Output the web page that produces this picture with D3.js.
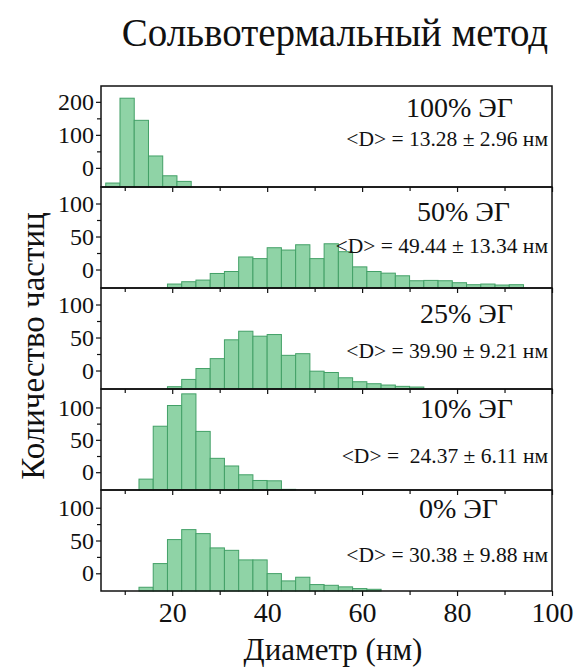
<!DOCTYPE html>
<html lang="ru">
<head>
<meta charset="UTF-8">
<title>Сольвотермальный метод</title>
<script src="https://cdn.jsdelivr.net/npm/d3@7"></script>
<style>
    body { margin: 0; background: #fff; }
    .bar { fill: #8fd3a6; stroke: #43a067; stroke-width: 1; }
    .frame { fill: none; stroke: #111; stroke-width: 1.5; }
    .axis path { display: none; }
    .axis line { stroke: #111; stroke-width: 1.2; }
</style>
</head>
<body>
<div id="chart"></div>
<script>
"use strict";

var serif = "'Liberation Serif', 'DejaVu Serif', serif";

// panel order top -> bottom
var panelLabels = ["100% ЭГ", "50% ЭГ", "25% ЭГ", "10% ЭГ", "0% ЭГ"];
var meanLabels = [
    "<D> = 13.28 ± 2.96 нм",
    "<D> = 49.44 ± 13.34 нм",
    "<D> = 39.90 ± 9.21 нм",
    "<D> =  24.37 ± 6.11 нм",
    "<D> = 30.38 ± 9.88 нм"
];

var binWidth = 3;                     // нм
var binStart = [6, 19, 19, 13, 13];   // left edge of first bin, нм

// bar tops as read on each panel's y axis
var eg100 = [-46, 211, 144, 36, -24, -41];
var eg50  = [-22, -18.5, -16, -6, -3, 19, 16.5, 33, 29.5, 37.5, 16.5, 39, 27, 4, -3, -5.5, -9.5, -17, -16.5, -17, -20, -23, -22, -23.5, -23];
var eg25  = [-24.5, -13.5, 3, 18, 46.5, 59.5, 52, 54.5, 23, 25.5, -1, -3, -11, -17, -20, -22, -24, -25];
var eg10  = [-10.7, 71, 103, 121, 63, 21.4, 9.6, -4, -12.8, -13.3, -26.5];
var eg0   = [-21.3, 14.8, 51.4, 66.6, 60.5, 38.7, 35, 20.4, 20.4, -0.5, -11.6, -6, -17.2, -18.3, -20.7, -23.3, -24.4];
var series = [eg100, eg50, eg25, eg10, eg0];

var yDomains = [[-58, 248], [-28, 125], [-28, 125], [-27.5, 128.5], [-27, 127]];
var yMajor = [[0, 100, 200], [0, 50, 100], [0, 50, 100], [0, 50, 100], [0, 50, 100]];
var yMinor = [[50, 150], [25, 75], [25, 75], [25, 75], [25, 75]];

var xDomain = [5, 100];
var xMajor = [20, 40, 60, 80, 100];
var xMinor = [10, 30, 50, 70, 90];

var W = 578, H = 669;
var margin = {left: 101, right: 26, top: 86};
var panelH = 101;
var width = W - margin.left - margin.right;

var svg = d3.select("#chart").append("svg")
    .attr("width", W)
    .attr("height", H);

var x = d3.scaleLinear().domain(xDomain).range([0, width]);

// label placement (right edge of each line, baselines relative to panel top)
var labelRight = [513, 510, 513, 513, 498];
var labelBase = [31, 34, 35, 29, 28];
var meanBase = [60, 66, 70, 74, 72];

function label(sel, size)
{
    return sel.attr("font-family", serif)
        .style("font-family", serif)
        .style("font-size", size + "px")
        .style("fill", "#111");
}

series.forEach(function(vals, p)
{
    var top = margin.top + p * panelH;
    var g = svg.append("g")
        .attr("transform", "translate(" + margin.left + "," + top + ")");

    var y = d3.scaleLinear().domain(yDomains[p]).range([panelH, 0]);
    var base = yDomains[p][0];

    g.selectAll("rect.bar")
        .data(vals)
        .enter().append("rect")
        .attr("class", "bar")
        .attr("x", function(d, i) { return x(binStart[p] + i * binWidth); })
        .attr("width", x(binStart[p] + binWidth) - x(binStart[p]))
        .attr("y", function(d) { return y(d); })
        .attr("height", function(d) { return y(base) - y(d); });

    // y axis, major + minor
    var ya = g.append("g").attr("class", "axis")
        .call(d3.axisLeft(y).tickValues(yMajor[p]).tickSize(5).tickPadding(2));
    label(ya.selectAll("text"), 24);
    g.append("g").attr("class", "axis")
        .call(d3.axisLeft(y).tickValues(yMinor[p]).tickSize(4).tickFormat(""));

    // x axis at panel bottom
    var last = p === series.length - 1;
    var xa = g.append("g").attr("class", "axis")
        .attr("transform", "translate(0," + panelH + ")")
        .call(d3.axisBottom(x).tickValues(xMajor).tickSize(5).tickPadding(6)
            .tickFormat(last ? d3.format("d") : ""));
    label(xa.selectAll("text"), 28);
    g.append("g").attr("class", "axis")
        .attr("transform", "translate(0," + panelH + ")")
        .call(d3.axisBottom(x).tickValues(xMinor).tickSize(4).tickFormat(""));

    g.append("rect")
        .attr("class", "frame")
        .attr("width", width)
        .attr("height", panelH);

    label(svg.append("text"), 28)
        .attr("x", labelRight[p])
        .attr("y", top + labelBase[p])
        .attr("text-anchor", "end")
        .text(panelLabels[p]);

    label(svg.append("text"), 21.5)
        .attr("x", 548)
        .attr("y", top + meanBase[p])
        .attr("text-anchor", "end")
        .attr("xml:space", "preserve")
        .style("white-space", "pre")
        .text(meanLabels[p]);
});

label(svg.append("text"), 39)
    .attr("x", 335)
    .attr("y", 46)
    .attr("text-anchor", "middle")
    .text("Сольвотермальный метод");

label(svg.append("text"), 33)
    .attr("transform", "translate(44," + 346 + ") rotate(-90)")
    .attr("text-anchor", "middle")
    .text("Количество частиц");

label(svg.append("text"), 31)
    .attr("x", 333)
    .attr("y", 660)
    .attr("text-anchor", "middle")
    .text("Диаметр (нм)");
</script>
</body>
</html>
